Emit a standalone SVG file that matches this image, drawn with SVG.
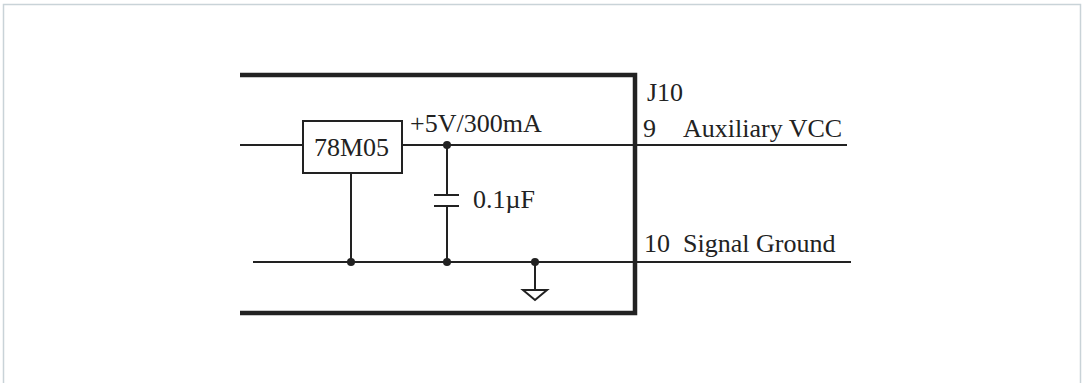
<svg xmlns="http://www.w3.org/2000/svg" width="1083" height="383" viewBox="0 0 1083 383">
<style>
.w{stroke:#222;stroke-width:2;fill:none}
.t{stroke:#222;stroke-width:4.5;fill:none}
.d{fill:#222}
text{font-family:"Liberation Serif","Times New Roman",serif;font-size:26px;fill:#222}
</style>
<rect x="0" y="0" width="1083" height="383" fill="#fff"/>
<path d="M3.5 383 V4.5 H1080.5 V383" fill="none" stroke="#c9d3d8" stroke-width="1.5"/>
<g id="board">
<path class="t" d="M240 75 H635 V313 H240"/>
</g>
<g id="regulator">
<rect x="303" y="121" width="99" height="52" class="w" fill="#fff"/>
<text x="314" y="156">78M05</text>
</g>
<g id="capacitor">
<path class="w" d="M434 195 H459 M434 206 H459"/>
<text x="473" y="208">0.1µF</text>
</g>
<g id="ground">
<path class="w" d="M523 290 H547 L535 300 Z"/>
</g>
<g id="J10">
<text x="647" y="101">J10</text>
<text x="643" y="137">9</text>
<text x="683" y="137">Auxiliary VCC</text>
<text x="644" y="252">10</text>
<text x="683" y="252">Signal Ground</text>
</g>
<g id="labels">
<text x="410" y="132">+5V/300mA</text>
</g>
<g id="connectors">
<path class="w" d="M240 145 H303 M402 145 H847"/>
<path class="w" d="M253 262 H851"/>
<path class="w" d="M351 173 V262"/>
<path class="w" d="M447 145 V195 M447 206 V262"/>
<path class="w" d="M535 262 V290"/>
<circle class="d" cx="447" cy="145" r="4"/>
<circle class="d" cx="351" cy="262" r="4"/>
<circle class="d" cx="447" cy="262" r="4"/>
<circle class="d" cx="535" cy="262" r="4"/>
</g>
</svg>
